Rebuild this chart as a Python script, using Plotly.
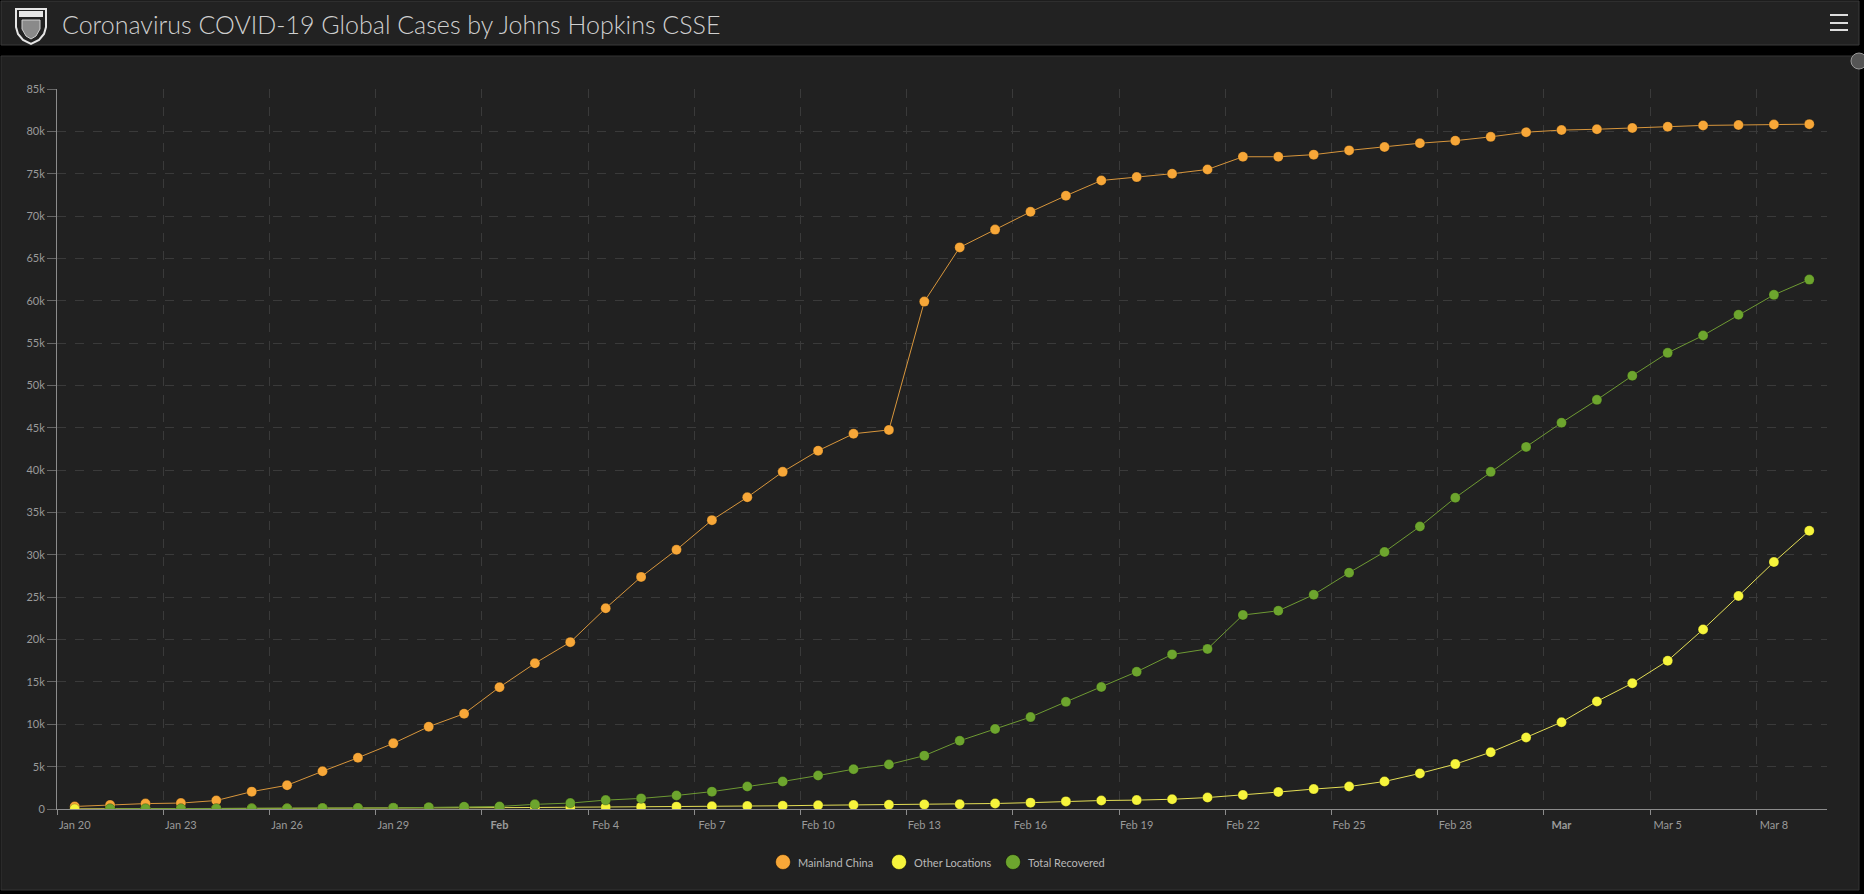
import pandas as pd
import plotly.graph_objects as go

# ---------------- data ----------------
dates = pd.date_range("2020-01-20", "2020-03-09", freq="D")

mainland_china = [
    300, 480, 640, 700, 1000, 2050, 2800, 4450, 6050, 7750, 9720, 11250,
    14380, 17200, 19700, 23700, 27400, 30600, 34100, 36800, 39800, 42300,
    44300, 44750, 59900, 66300, 68400, 70500, 72400, 74200, 74600, 75000,
    75500, 77000, 77000, 77250, 77750, 78150, 78600, 78900, 79350,
    79900, 80150, 80250, 80400, 80550, 80700, 80750, 80800, 80850,
]
other_locations = [
    10, 15, 20, 30, 40, 55, 65, 80, 90, 110, 130, 150,
    160, 180, 200, 230, 250, 280, 320, 350, 380, 440,
    470, 500, 540, 560, 650, 750, 900, 1000, 1050, 1150,
    1350, 1650, 2000, 2350, 2650, 3250, 4200, 5300, 6700,
    8450, 10250, 12700, 14850, 17500, 21200, 25150, 29150, 32850,
]
total_recovered = [
    None, 28, 30, 35, 40, 50, 60, 100, 120, 135, 215, 275,
    300, 550, 700, 1050, 1250, 1600, 2050, 2650, 3250, 3950,
    4700, 5250, 6300, 8050, 9450, 10850, 12650, 14400, 16200, 18250,
    18900, 22900, 23400, 25300, 27900, 30350, 33350, 36750, 39800,
    42750, 45600, 48300, 51150, 53850, 55900, 58350, 60700, 62500,
]

series_names = ["Mainland China", "Other Locations", "Total Recovered"]
y_ticks = list(range(0, 85001, 5000))
y_ticktext = ["0" if v == 0 else f"{v // 1000}k" for v in y_ticks]

# x ticks every 3 days from the first date; first tick in a new month shows month name
tick_dates = dates[::3]
tick_text = []
prev_month = tick_dates[0].month
for i, d in enumerate(tick_dates):
    if i > 0 and d.month != prev_month:
        tick_text.append(f"<b>{d.strftime('%b')}</b>")
    else:
        tick_text.append(f"{d.strftime('%b')} {d.day}")
    prev_month = d.month
grid_dates = [d - pd.Timedelta(hours=12) for d in tick_dates]

# ---------------- style ----------------
W, H = 1864, 894
L, R, T, B = 57, 1827, 89, 809
FONT = "Lato, 'Open Sans', sans-serif"

col = {
    "Mainland China": ("#F7A738", "#D8963C"),
    "Other Locations": ("#F6F43C", "#E4DE55"),
    "Total Recovered": ("#6DA52E", "#6E9A33"),
}
legend_x = {"Mainland China": 783, "Other Locations": 899, "Total Recovered": 1013}
legend_y = 862


def fx(px):
    return (px - L) / (R - L)


def fy(py):
    return (B - py) / (B - T)


fig = go.Figure()

values = {
    "Mainland China": mainland_china,
    "Other Locations": other_locations,
    "Total Recovered": total_recovered,
}

# data traces
for name in series_names:
    mc, lc = col[name]
    fig.add_trace(go.Scatter(
        x=dates, y=values[name], name=name, mode="lines+markers",
        line=dict(color=lc, width=1),
        marker=dict(color=mc, size=10, line=dict(color="rgba(0,0,0,0.35)", width=0.6)),
        showlegend=False,
    ))

shapes = []
# header bar
shapes.append(dict(type="rect", xref="paper", yref="paper", layer="below",
                   x0=fx(1), x1=fx(1859), y0=fy(1), y1=fy(45),
                   fillcolor="#222222", line=dict(color="#3a3a3a", width=1)))
# chart panel
shapes.append(dict(type="rect", xref="paper", yref="paper", layer="below",
                   x0=fx(1), x1=fx(1859), y0=fy(56), y1=fy(890),
                   fillcolor="#212121", line=dict(color="#343434", width=1)))


def path(points):
    s = "M {} {}".format(fx(points[0][0]), fy(points[0][1]))
    for p in points[1:]:
        s += " L {} {}".format(fx(p[0]), fy(p[1]))
    return s + " Z"


# shield logo
shield = [(16, 9), (46, 9), (46, 27), (44, 34), (39, 40), (31, 44), (23, 40), (18, 34), (16, 27)]
shapes.append(dict(type="path", xref="paper", yref="paper", path=path(shield),
                   fillcolor="#222222", line=dict(color="#e6e6e6", width=2)))
shapes.append(dict(type="rect", xref="paper", yref="paper",
                   x0=fx(19), x1=fx(43), y0=fy(11), y1=fy(17),
                   fillcolor="#e6e6e6", line=dict(width=0)))
crest = [(22, 20), (40, 20), (40, 29), (36, 36), (31, 39), (26, 36), (22, 29)]
shapes.append(dict(type="path", xref="paper", yref="paper", path=path(crest),
                   fillcolor="#8a8a8a", line=dict(color="#cfcfcf", width=1)))

# hamburger
for yy in (15, 23, 30):
    shapes.append(dict(type="line", xref="paper", yref="paper",
                       x0=fx(1830), x1=fx(1848), y0=fy(yy), y1=fy(yy),
                       line=dict(color="#dddddd", width=2)))
# expand icon
shapes.append(dict(type="circle", xref="paper", yref="paper",
                   x0=fx(1851), x1=fx(1867), y0=fy(53), y1=fy(69),
                   fillcolor="#555555", line=dict(color="#999999", width=1)))

annotations = [dict(
    text="Coronavirus COVID-19 Global Cases by Johns Hopkins CSSE",
    xref="paper", yref="paper", x=fx(60), y=fy(24),
    xanchor="left", yanchor="middle", showarrow=False,
    font=dict(family=FONT, size=25, color="#cfcfcf", weight=300),
)]

# manual legend
for name in series_names:
    mc, lc = col[name]
    cx = legend_x[name]
    shapes.append(dict(type="circle", xref="paper", yref="paper",
                       x0=fx(cx - 7.5), x1=fx(cx + 7.5),
                       y0=fy(legend_y - 7.5), y1=fy(legend_y + 7.5),
                       fillcolor=mc, line=dict(color="rgba(0,0,0,0.45)", width=1)))
    annotations.append(dict(
        text=name, xref="paper", yref="paper", x=fx(cx + 13), y=fy(legend_y),
        xanchor="left", yanchor="middle", showarrow=False,
        font=dict(family=FONT, size=11, color="#b8b8b8"),
    ))

grid_col = "#3a3a3a"
axis_col = "#8c8c8c"

fig.update_layout(
    width=W, height=H,
    margin=dict(l=L, r=W - R, t=T, b=H - B, pad=0),
    paper_bgcolor="#000000",
    plot_bgcolor="rgba(0,0,0,0)",
    font=dict(family=FONT, size=11, color="#9a9a9a"),
    shapes=shapes,
    annotations=annotations,
    hovermode="x",
    showlegend=False,
    xaxis=dict(
        type="date",
        range=[dates[0] - pd.Timedelta(hours=12), dates[-1] + pd.Timedelta(hours=12)],
        tickmode="array", tickvals=list(tick_dates), ticktext=tick_text,
        ticks="outside", ticklen=6, tickcolor="rgba(0,0,0,0)",
        showgrid=False, zeroline=False,
        showline=True, linecolor=axis_col, linewidth=1,
        tickfont=dict(family=FONT, size=11, color="#9a9a9a"),
        minor=dict(tickmode="array", tickvals=grid_dates, showgrid=True,
                   gridcolor=grid_col, griddash="dash", gridwidth=1,
                   ticks="outside", ticklen=5, tickcolor=axis_col, tickwidth=1),
        fixedrange=True,
    ),
    yaxis=dict(
        range=[0, 85000],
        tickmode="array", tickvals=y_ticks, ticktext=y_ticktext,
        ticks="outside", ticklen=9, tickcolor="#666666",
        showgrid=True, gridcolor=grid_col, griddash="dash", gridwidth=1,
        zeroline=False, showline=True, linecolor=axis_col, linewidth=1,
        tickfont=dict(family=FONT, size=11, color="#9a9a9a"),
        fixedrange=True,
    ),
)

fig.write_html(
    "out.html",
    config={"displayModeBar": False},
    post_script="document.body.style.margin='0';document.body.style.background='#000';",
)
